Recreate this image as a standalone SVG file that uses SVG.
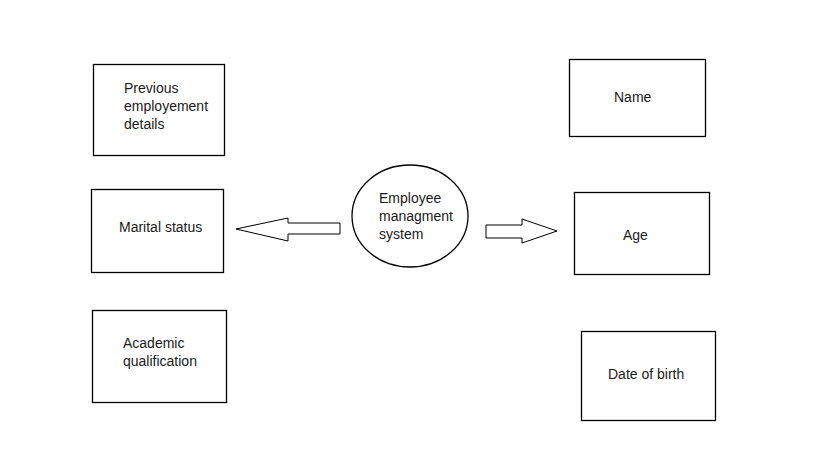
<svg xmlns="http://www.w3.org/2000/svg" width="819" height="460" viewBox="0 0 819 460">
<style>
.box{fill:#fff;stroke:#000;stroke-width:1.3}
.arr{fill:#fff;stroke:#000;stroke-width:1}
text{font-family:"Liberation Sans",Arial,sans-serif;font-size:14px;fill:#1a1a1a}
</style>
<rect width="819" height="460" fill="#fff"/>
<g id="node-prev"><rect class="box" x="93.5" y="64.5" width="131" height="91"/><text x="124" y="93">Previous</text><text x="124" y="111">employement</text><text x="124" y="129">details</text></g>
<g id="node-marital"><rect class="box" x="91.5" y="189.5" width="132" height="83"/><text x="119" y="232">Marital status</text></g>
<g id="node-academic"><rect class="box" x="92.5" y="310.5" width="134" height="92"/><text x="123" y="348">Academic</text><text x="123" y="366">qualification</text></g>
<g id="node-ems"><ellipse class="box" cx="410" cy="216" rx="58" ry="51"/><text x="379" y="203">Employee</text><text x="379" y="221">managment</text><text x="379" y="239">system</text></g>
<g id="node-name"><rect class="box" x="569.5" y="59.5" width="136" height="77"/><text x="614" y="102">Name</text></g>
<g id="node-age"><rect class="box" x="574.5" y="192.5" width="135" height="82"/><text x="623" y="240">Age</text></g>
<g id="node-dob"><rect class="box" x="581.5" y="331.5" width="134" height="89"/><text x="608" y="379">Date of birth</text></g>
<g id="connectors">
<polygon class="arr" points="340,223 340,234 288,234 288,241 236,229 288,218 288,223"/>
<polygon class="arr" points="486,225 522,225 522,219 557,231 522,243 522,238 486,238"/>
</g>
</svg>
